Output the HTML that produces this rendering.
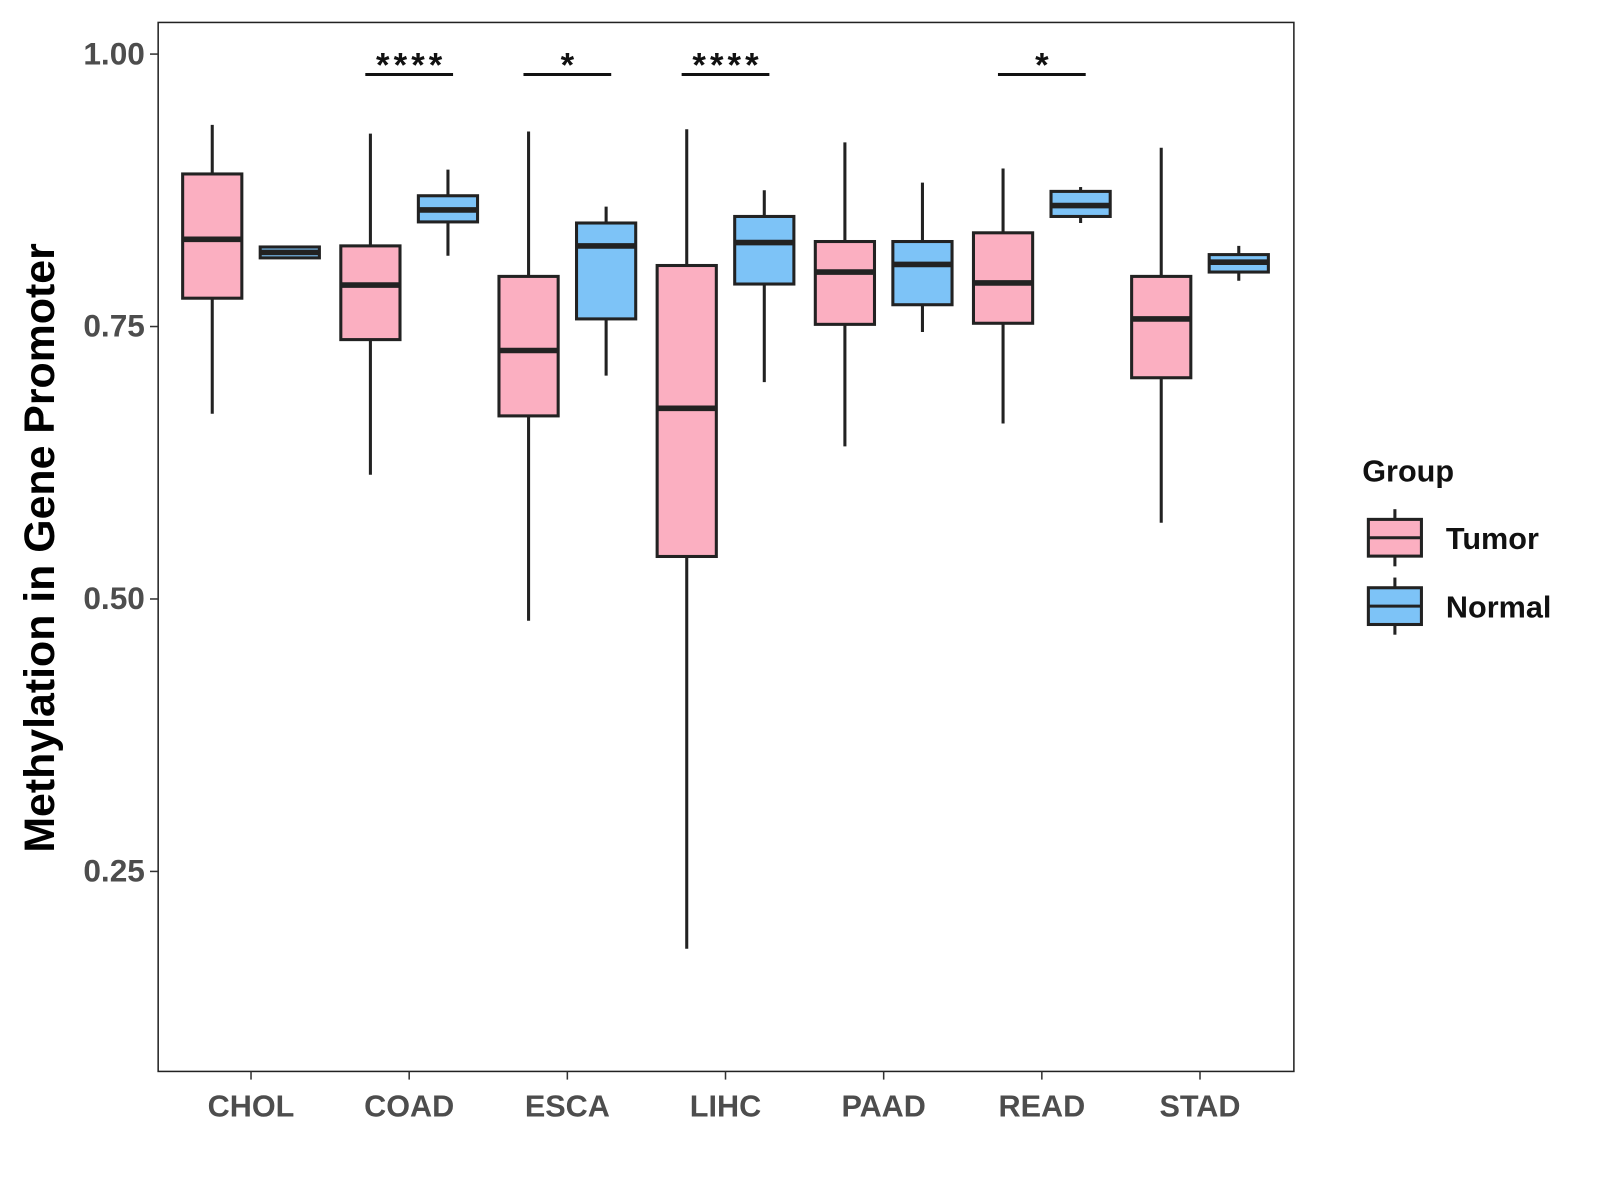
<!DOCTYPE html>
<html><head><meta charset="utf-8"><style>
body{margin:0;background:#fff;width:1600px;height:1200px;overflow:hidden}
svg{font-family:"Liberation Sans",sans-serif;display:block}
</style></head><body>
<svg id="chart" width="1600" height="1200" viewBox="0 0 1568 1176" xmlns="http://www.w3.org/2000/svg"></svg>
<script>
const categories=["CHOL","COAD","ESCA","LIHC","PAAD","READ","STAD"];
// [low, q1, median, q3, high]
const tumorStats=[[0.670,0.776,0.830,0.890,0.935],[0.614,0.738,0.788,0.824,0.927],[0.480,0.668,0.728,0.796,0.929],[0.179,0.539,0.675,0.806,0.931],[0.640,0.752,0.800,0.828,0.919],[0.661,0.753,0.790,0.836,0.895],[0.570,0.703,0.757,0.796,0.914]];
const normalStats=[[0.813,0.813,0.818,0.823,0.823],[0.815,0.846,0.857,0.870,0.894],[0.705,0.757,0.824,0.845,0.860],[0.699,0.789,0.827,0.851,0.875],[0.745,0.770,0.807,0.828,0.882],[0.845,0.851,0.861,0.874,0.878],[0.792,0.800,0.809,0.816,0.824]];
const yTicks=[0.25,0.50,0.75,1.00];
const yTickLabels=["0.25","0.50","0.75","1.00"];
const sigLabels=["","****","*","****","","*",""];
const NS="http://www.w3.org/2000/svg";
const svg=document.getElementById('chart');
const pL=155,pR=1268,pT=22,pB=1050;
const y=v=>53+(1-v)*1068;
const x=i=>246+i*155;
function el(t,a,txt){const e=document.createElementNS(NS,t);for(const k in a)e.setAttribute(k,a[k]);if(txt!==undefined)e.textContent=txt;svg.appendChild(e);return e;}
let e=el('rect',{x:pL,y:pT,width:pR-pL,height:pB-pT,fill:'none',stroke:'#222','stroke-width':1.5});

yTicks.forEach((t,i)=>{
 let l=el('line',{x1:pL-8,x2:pL,y1:y(t),y2:y(t),stroke:'#333','stroke-width':1.5});
 
 let tx=el('text',{x:pL-13,y:y(t)+10,'text-anchor':'end','font-size':31,'font-weight':'bold',fill:'#4d4d4d'},yTickLabels[i]);
 
});
categories.forEach((c,i)=>{
 let l=el('line',{x1:x(i),x2:x(i),y1:pB,y2:pB+8,stroke:'#333','stroke-width':1.5});
 
 let tx=el('text',{x:x(i),y:pB+44,'text-anchor':'middle','font-size':30,'font-weight':'bold',fill:'#4d4d4d'},c);
 
});
function box(cx,s,fill,name){
 const w=58;
 let wl=el('line',{x1:cx,x2:cx,y1:y(s[4]),y2:y(s[0]),stroke:'#222','stroke-width':3});
 
 let r=el('rect',{x:cx-w/2,y:y(s[3]),width:w,height:Math.max(y(s[1])-y(s[3]),1),fill:fill,stroke:'#222','stroke-width':3});
 
 let m=el('line',{x1:cx-w/2,x2:cx+w/2,y1:y(s[2]),y2:y(s[2]),stroke:'#222','stroke-width':5.5});
 
}
categories.forEach((c,i)=>{
 box(x(i)-38,tumorStats[i],'#FBAFC1',c.toLowerCase()+'-tumor');
 box(x(i)+38,normalStats[i],'#7DC3F7',c.toLowerCase()+'-normal');
 if(sigLabels[i]){
  let b=el('line',{x1:x(i)-43,x2:x(i)+43,y1:73,y2:73,stroke:'#111','stroke-width':3});
  
  let t=el('text',{x:x(i)+2,y:75,'text-anchor':'middle','font-size':34,'letter-spacing':4,'font-weight':'bold',fill:'#111'},sigLabels[i]);
  
 }
});
let yt=el('text',{x:0,y:0,transform:'translate(53,537) rotate(-90)','text-anchor':'middle','font-size':42,'font-weight':'bold',fill:'#000'},'Methylation in Gene Promoter');

let lg=el('text',{x:1335,y:472,'font-size':30,'font-weight':'bold',fill:'#111'},'Group');

[['Tumor','#FBAFC1',527],['Normal','#7DC3F7',594]].forEach(([n,f,cy])=>{
 let w=el('line',{x1:1367,x2:1367,y1:cy-28,y2:cy+28,stroke:'#222','stroke-width':3});
 
 let r=el('rect',{x:1341,y:cy-18,width:52,height:36,fill:f,stroke:'#222','stroke-width':3});
 
 let m=el('line',{x1:1341,x2:1393,y1:cy,y2:cy,stroke:'#222','stroke-width':3});
 
 let t=el('text',{x:1417,y:cy+11,'font-size':30,'font-weight':'bold',fill:'#111'},n);
 
});
</script>
</body></html>
